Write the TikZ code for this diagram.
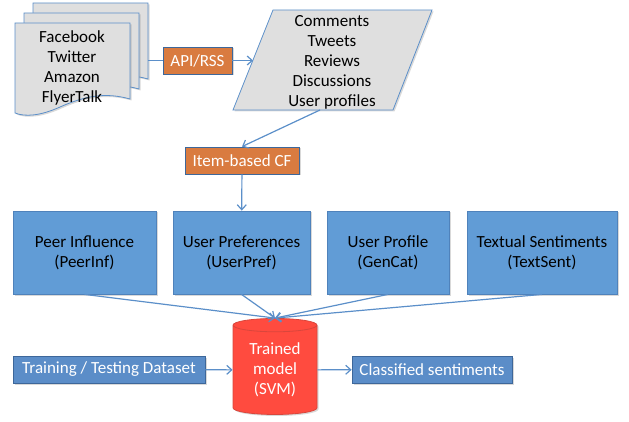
\documentclass[tikz,border=0pt]{standalone}
\usepackage{fontspec}
\setmainfont{Carlito}
\usepackage{xcolor}
\usepackage{tikz}
\usetikzlibrary{arrows.meta, shapes.geometric, shadows}

\definecolor{docgray}{HTML}{DFDFDF}
\definecolor{lineblue}{HTML}{5B8FC9}
\definecolor{boxblue}{HTML}{619CD6}
\definecolor{boxline}{HTML}{4F82BB}
\definecolor{darkblue}{HTML}{5B8DC8}
\definecolor{darkline}{HTML}{3D679A}
\definecolor{orange}{HTML}{D97B40}
\definecolor{svmred}{HTML}{FF4B3F}
\definecolor{svmline}{HTML}{D9463C}

\begin{document}
\begin{tikzpicture}[x=1pt,y=-1pt,font=\fontsize{17}{20}\selectfont]
    \tikzset{shade/.style = {drop shadow={shadow xshift=1.5pt,shadow yshift=-1.5pt,opacity=.3}}}
    \tikzset{docshape/.style = {draw=lineblue,fill=docgray,line width=0.8pt}}
    \tikzset{feature/.style = {shape=rectangle,draw=boxline,fill=boxblue,line width=0.8pt,minimum height=83pt,inner sep=0pt,align=center,shade}}
    \tikzset{smallbox/.style = {shape=rectangle,draw=darkline,fill=darkblue,text=white,line width=0.8pt,minimum height=27pt,inner sep=0pt,shade}}
    \tikzset{stage/.style = {shape=rectangle,draw=darkline,fill=orange,text=white,line width=0.8pt,minimum height=27pt,inner sep=0pt,shade}}
    \tikzset{edge/.style = {->,> = {Straight Barb[length=5pt,width=9pt]},draw=lineblue,line width=1.2pt}}
    \useasboundingbox (0,0) rectangle (629,422);
    % sources
    \foreach \dx/\dy in {18/-20, 9/-10, 0/0}
        \draw[docshape,shade,shift={(\dx,\dy)}] (15,23) -- (130,23) -- (130,99)
            .. controls (105,92) and (85,96) .. (60,107)
            .. controls (40,116) and (25,117) .. (15,113) -- cycle;
    \node[align=center] (src) at (72,68) {Facebook\\Twitter\\Amazon\\FlyerTalk};
    \coordinate (srcR) at (148,60.5);
    % posts
    \draw[docshape,shade] (233,110) -- (273,10) -- (432,10) -- (393,110) -- cycle;
    \node[align=center] (posts) at (332,62) {Comments\\Tweets\\Reviews\\Discussions\\User profiles};
    \coordinate (postsW) at (253,60.5);
    \coordinate (postsS) at (320,110);
    % stages
    \node[stage,minimum width=69pt] (api) at (197.5,60.5) {API/RSS};
    \node[stage,minimum width=114pt] (cf) at (242,160.5) {Item-based CF};
    % features
    \node[feature,minimum width=143pt] (peer) at (84.5,252.5) {Peer Influence\\(PeerInf)};
    \node[feature,minimum width=137pt] (pref) at (241.5,252.5) {User Preferences\\(UserPref)};
    \node[feature,minimum width=122pt] (prof) at (388,252.5) {User Profile\\(GenCat)};
    \node[feature,minimum width=150pt] (sent) at (542,252.5) {Textual Sentiments\\(TextSent)};
    % model
    \node[cylinder,shape border rotate=90,aspect=0.26,draw=svmline,fill=svmred,line width=0.8pt,
          minimum width=84pt,minimum height=96pt,inner sep=0pt,text=white,align=center,shade] (svm) at (275,370) {Trained\\model\\(SVM)};
    \node[smallbox,minimum width=192pt] (train) at (109,369.5) {Training / Testing Dataset};
    \node[smallbox,minimum width=160pt] (out) at (432,369.5) {Classified sentiments};
    %edges
    \draw[draw=lineblue,line width=1.2pt] (srcR) -- (api);
    \draw[edge] (api) -- (postsW);
    \draw[edge] (postsS) -- (cf.north);
    \draw[edge] (cf) -- (pref);
    \draw[edge] (peer.south) -- (svm.top);
    \draw[edge] (pref.south) -- (svm.top);
    \draw[edge] (prof.south) -- (svm.top);
    \draw[edge] (sent.south) -- (svm.top);
    \draw[edge] (train) -- (svm);
    \draw[edge] (svm) -- (out);
\end{tikzpicture}
\end{document}
